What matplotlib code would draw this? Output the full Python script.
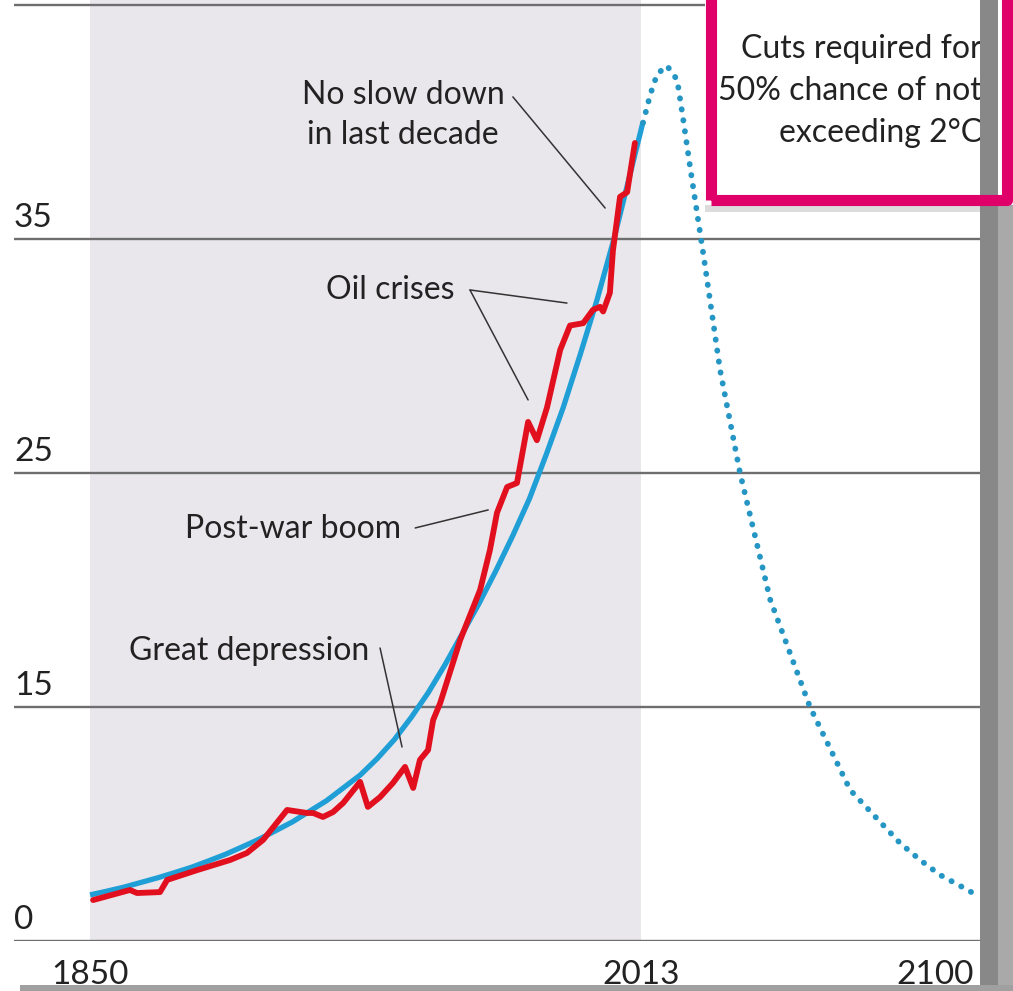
import matplotlib
matplotlib.use("Agg")
import matplotlib.pyplot as plt
from matplotlib.patches import Rectangle
from matplotlib.transforms import blended_transform_factory

plt.rcParams['font.family'] = ['Lato', 'DejaVu Sans']

# actual emissions (red)
actual_years = [1850.9, 1861.8, 1863.9, 1870.7, 1872.8, 1881.7, 1891.4, 1896.4, 1901.2,
                1908.3, 1914.2, 1916.0, 1918.9, 1921.9, 1924.9, 1929.9, 1932.2, 1935.8,
                1939.6, 1943.2, 1945.6, 1947.6, 1950.0, 1951.5, 1953.6, 1959.5, 1965.4,
                1968.3, 1970.4, 1973.4, 1976.3, 1979.6, 1982.2, 1985.2, 1989.1, 1992.0,
                1995.9, 1998.8, 2000.9, 2001.8, 2003.8, 2004.7, 2006.8, 2008.9, 2011.2]
actual_values = [6.75, 7.18, 7.05, 7.09, 7.61, 8.03, 8.46, 8.76, 9.32,
                 10.6, 10.47, 10.47, 10.3, 10.51, 10.9, 11.8, 10.73, 11.15,
                 11.75, 12.44, 11.54, 12.74, 13.16, 14.44, 15.17, 17.86, 20.0,
                 21.7, 23.3, 24.4, 24.57, 27.18, 26.4, 27.8, 30.26, 31.3,
                 31.4, 31.97, 32.1, 31.9, 32.7, 34.5, 36.8, 37.0, 39.1]

# trend (blue, solid)
trend_years = [1850, 1855, 1860, 1865, 1870, 1875, 1880, 1885, 1890, 1895, 1900, 1905,
               1910, 1915, 1920, 1925, 1930, 1935, 1940, 1945, 1950, 1955, 1960, 1965,
               1970, 1975, 1980, 1985, 1990, 1995, 2000, 2005, 2010, 2013.6]
trend_values = [6.97, 7.13, 7.3, 7.5, 7.7, 7.92, 8.15, 8.42, 8.7, 9.02, 9.35, 9.72,
                10.1, 10.55, 11.0, 11.55, 12.1, 12.8, 13.6, 14.55, 15.6, 16.8, 18.1, 19.4,
                20.8, 22.3, 23.9, 25.8, 27.8, 30.05, 32.4, 35.0, 37.9, 40.0]

# required path (blue, dotted)
path_years = [2013.6, 2015.7, 2017.8, 2020.7, 2023.7, 2025.4, 2027.5, 2029.6, 2031.4,
              2036.4, 2042.3, 2051.2, 2063.0, 2074.9, 2084.6, 2089.6, 2095.6, 2101.5,
              2108.0, 2111.2]
path_values = [39.96, 41.15, 42.05, 42.4, 41.8, 40.2, 38.1, 36.1, 34.4,
               29.4, 25.0, 19.6, 15.0, 11.45, 9.96, 9.19, 8.46, 7.82,
               7.31, 7.05]

ytick_values = [5, 15, 25, 35, 45]
ytick_labels = ['0', '15', '25', '35', '']
xtick_values = [1850, 2013, 2100]
xtick_labels = ['1850', '2013', '2100']

W, H = 1013, 991
fig = plt.figure(figsize=(W / 100, H / 100), dpi=100)
ax = fig.add_axes([14 / W, 50 / H, (980 - 14) / W, 941 / H])
ax.set_xlim(1827.5, 2113.3)
ax.set_ylim(5, 45.21)

ax.axvspan(1850, 2013, color='#e9e7ec', zorder=0.2, lw=0)
for v in ytick_values:
    ax.axhline(v, color='#6e6e6e', lw=1.7, zorder=0.5)

ax.plot(trend_years, trend_values, color='#1f9fd6', lw=3.8, solid_capstyle='butt', zorder=3)
ax.plot(path_years, path_values, color='#2596c4', lw=4.2, dashes=(0.05, 1.85),
        dash_capstyle='round', zorder=3)
ax.plot(actual_years, actual_values, color='#e2101e', lw=4.2, solid_joinstyle='round',
        solid_capstyle='round', zorder=4)

for s in ax.spines.values():
    s.set_visible(False)
ax.set_yticks([])
ax.set_xticks(xtick_values)
ax.set_xticklabels(xtick_labels, fontsize=24, color='#222222')
ax.tick_params(axis='x', length=0, pad=14)

trans = blended_transform_factory(ax.transAxes, ax.transData)
for v, lab in zip(ytick_values, ytick_labels):
    ax.text(0.0, v + 0.5, lab, transform=trans, ha='left', va='baseline',
            fontsize=24, color='#222222')

# annotations
txt = dict(fontsize=23, color='#222222', ha='center', va='center', zorder=5)
line = dict(arrowstyle='-', color='#333333', lw=1.1, shrinkA=0, shrinkB=0)
ax.text(1942.6, 40.3, 'No slow down\nin last decade', linespacing=1.45, **txt)
ax.annotate('', xy=(2002.4, 36.32), xytext=(1975.1, 41.07), arrowprops=line)
ax.text(1938.8, 32.8, 'Oil crises', **txt)
ax.annotate('', xy=(1991.1, 32.26), xytext=(1962.4, 32.82), arrowprops=line)
ax.annotate('', xy=(1979.6, 28.12), xytext=(1962.4, 32.82), arrowprops=line)
ax.text(1910.1, 22.6, 'Post-war boom', **txt)
ax.annotate('', xy=(1967.8, 23.42), xytext=(1946.2, 22.65), arrowprops=line)
ax.text(1897.0, 17.4, 'Great depression', **txt)
ax.annotate('', xy=(1942.3, 13.29), xytext=(1935.8, 17.52), arrowprops=line)

# pink box, top right
fig.patches.append(Rectangle((705 / W, 1 - 205 / H), 307 / W, 0.3, transform=fig.transFigure,
                             facecolor='white', edgecolor='none', zorder=1))
fig.patches.append(Rectangle((705 / W, 1 - 212 / H), 275 / W, 7 / H, transform=fig.transFigure,
                             facecolor='#dcdcdc', edgecolor='none', zorder=1))
fig.text(982 / W, 1 - 91 / H, 'Cuts required for\n50% chance of not\nexceeding 2°C',
         ha='right', va='center', multialignment='right', linespacing=1.5,
         fontsize=23, color='#222222', zorder=1.5)

# screenshot frame strips
fig.patches.append(Rectangle((980 / W, 0), 18 / W, 1, transform=fig.transFigure,
                             facecolor='#888888', edgecolor='none', zorder=2))
fig.patches.append(Rectangle((998 / W, 0), 15 / W, 1 - 205 / H, transform=fig.transFigure,
                             facecolor='#a9a9a9', edgecolor='none', zorder=2))
fig.patches.append(Rectangle((20 / W, 0), 1, 6 / H, transform=fig.transFigure,
                             facecolor='#a0a0a0', edgecolor='none', zorder=2))
fig.patches.append(Rectangle((710.5 / W, 1 - 199.5 / H), 296 / W, 0.3, transform=fig.transFigure,
                             facecolor='none', edgecolor='#e0006a', lw=8, joinstyle='round',
                             zorder=3))

fig.savefig('out.png', dpi=100)
